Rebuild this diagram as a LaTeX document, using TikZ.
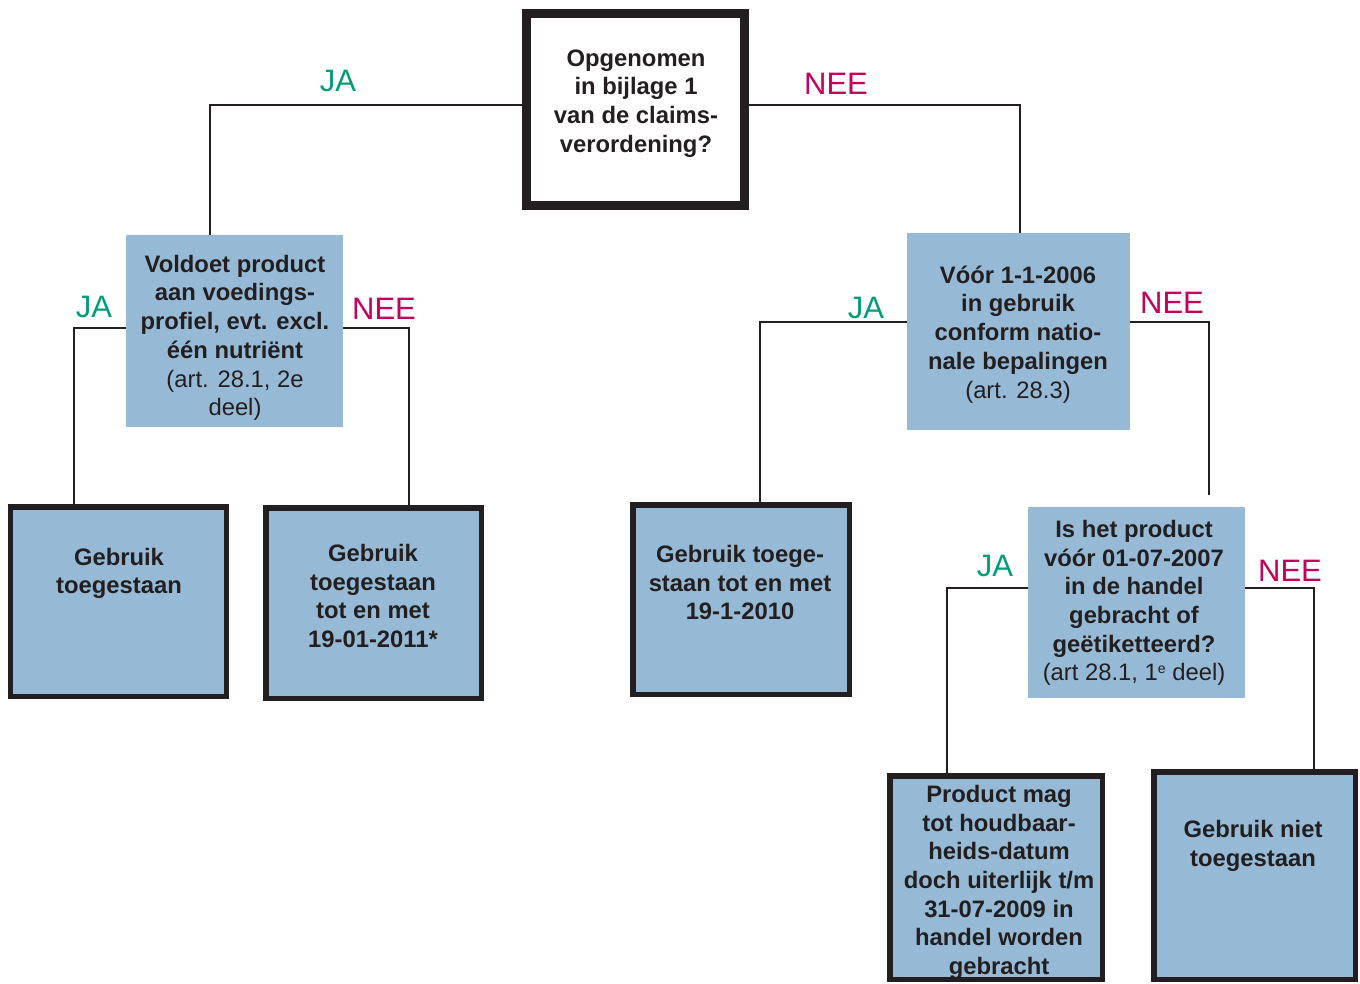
\documentclass[tikz,border=0pt]{standalone}
\usepackage{fontspec}
\setmainfont{Liberation Sans}
\definecolor{boxblue}{RGB}{150,186,214}
\definecolor{jagreen}{RGB}{0,158,120}
\definecolor{neered}{RGB}{196,0,92}
\definecolor{ink}{RGB}{35,31,32}
\newcommand{\mysup}[1]{\raisebox{7bp}{\fontsize{14bp}{14bp}\selectfont #1}}
\begin{document}
\begin{tikzpicture}[x=1bp,y=-1bp,
  txt/.style={inner sep=0pt,anchor=north,align=center,text=ink,font=\fontsize{23.8bp}{28.7bp}\selectfont\bfseries},
  qbox/.style={fill=boxblue,inner sep=0pt},
  leaf/.style={fill=boxblue,draw=ink,line width=5.5bp,inner sep=0pt},
  conn/.style={draw=ink,line width=2bp},
  ja/.style={text=jagreen,font=\fontsize{31bp}{36bp}\selectfont,inner sep=0pt},
  nee/.style={text=neered,font=\fontsize{31bp}{36bp}\selectfont,inner sep=0pt}]
\useasboundingbox (0,0) rectangle (1360,983);
% boxes
\node[draw=ink,line width=9bp,fill=white,inner sep=0pt,minimum width=218bp,minimum height=192bp] (top) at (635.5,109.5) {};
\node[qbox,minimum width=217bp,minimum height=192bp] (b2) at (234.5,331) {};
\node[qbox,minimum width=223bp,minimum height=197bp] (b3) at (1018.5,331.5) {};
\node[qbox,minimum width=217bp,minimum height=191bp] (b4) at (1136.5,602.5) {};
\node[leaf,minimum width=215.5bp,minimum height=189.5bp] (l1) at (118.5,601.5) {};
\node[leaf,minimum width=215.5bp,minimum height=190.5bp] (l2) at (373.5,603) {};
\node[leaf,minimum width=216.5bp,minimum height=189.5bp] (l3) at (741,599.5) {};
\node[leaf,minimum width=212.5bp,minimum height=203.5bp] (l4) at (996,877.5) {};
\node[leaf,minimum width=201.5bp,minimum height=207.5bp] (l5) at (1254.5,875.5) {};
% texts
\node[txt] (topt) at (636,46) {\strut Opgenomen\\in bijlage 1\\van de claims-\\verordening?};
\node[txt] (b2t) at (235,252) {\strut Voldoet product\\aan voedings-\\profiel, evt. excl.\\één nutriënt\\\mdseries(art. 28.1, 2e\\\mdseries deel)};
\node[txt] (b3t) at (1018,263) {\strut Vóór 1-1-2006\\in gebruik\\conform natio-\\nale bepalingen\\\mdseries(art. 28.3)};
\node[txt] (b4t) at (1134,517) {\strut Is het product\\vóór 01-07-2007\\in de handel\\gebracht of\\geëtiketteerd?\\\mdseries(art 28.1, 1\mysup{e} deel)};
\node[txt] (l1t) at (119,545) {\strut Gebruik\\toegestaan};
\node[txt] (l2t) at (373,541) {\strut Gebruik\\toegestaan\\tot en met\\19-01-2011*};
\node[txt] (l3t) at (740,542) {\strut Gebruik toege-\\staan tot en met\\19-1-2010};
\node[txt] (l4t) at (999,782) {\strut Product mag\\tot houdbaar-\\heids-datum\\doch uiterlijk t/m\\31-07-2009 in\\handel worden\\gebracht};
\node[txt] (l5t) at (1253,817) {\strut Gebruik niet\\toegestaan};
% connectors
\coordinate (c1) at (1209,495);
\draw[conn] (top.west |- 0,105) -| (b2.north -| 210,0);
\draw[conn] (top.east |- 0,105) -| (b3.north -| 1020,0);
\draw[conn] (b2.west |- 0,328) -| (l1.north -| 74,0);
\draw[conn] (b2.east |- 0,328) -| (l2.north -| 409,0);
\draw[conn] (b3.west |- 0,322) -| (l3.north -| 760,0);
\draw[conn] (b3.east |- 0,322) -| (c1);
\draw[conn] (b4.west |- 0,588) -| (l4.north -| 947,0);
\draw[conn] (b4.east |- 0,588) -| (l5.north -| 1314,0);
% labels
\node[ja] (ja1) at (338,81) {JA};
\node[nee] (nee1) at (836,84) {NEE};
\node[ja] (ja2) at (94,307) {JA};
\node[nee] (nee2) at (384,309) {NEE};
\node[ja] (ja3) at (866,308) {JA};
\node[nee] (nee3) at (1172,303) {NEE};
\node[ja] (ja4) at (995,566) {JA};
\node[nee] (nee4) at (1290,571) {NEE};
\end{tikzpicture}
\end{document}
